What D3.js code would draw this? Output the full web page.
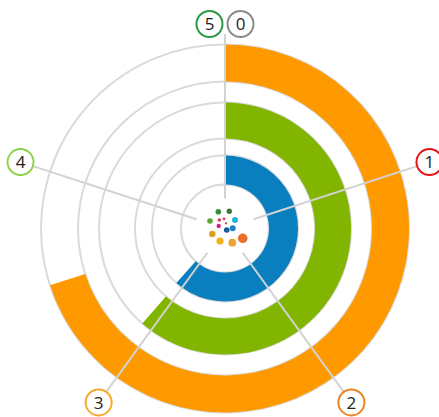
<!DOCTYPE html>
<html>
<head>
<meta charset="utf-8">
<script src="https://cdn.jsdelivr.net/npm/d3@7"></script>
<style>
  html, body { margin: 0; padding: 0; background: #fff; }
  #chart { width: 439px; height: 417px; }
</style>
</head>
<body>
<div id="chart"></div>
<script>
// ---- data ---------------------------------------------------------------
const seriesNames = ["inner", "middle", "outer"];
const seriesValues = [3.08, 3.07, 3.5];
const seriesColors = ["#0a7fc0", "#82b500", "#ff9900"];

const tickLabels = ["0", "1", "2", "3", "4", "5"];
const tickColors = ["#8a8a8a", "#e8121b", "#f08423", "#f7a92c", "#8fd14f", "#2a9a47"];

// little dot cluster in the hole (offsets from centre, px-units of the picture)
const dotX = [-6.7, 4.3, -15, -5.7, -1, 1, 10, -6.3, 1.7, 7.7, -12.7, -5, 7.3, 17.7];
const dotY = [-16.8, -17.2, -7.5, -8.5, -9.8, -5.2, -8.5, -2.5, 1.5, -0.2, 5.5, 12.5, 14.2, 9.8];
const dotR = [2.8, 2.7, 2.8, 1.7, 1.5, 1.1, 3, 2.2, 2.8, 3, 3.2, 3.6, 3.9, 4.8];
const dotColors = ["#2f8f3f", "#3b7a34", "#5aa83c", "#e0363f", "#e04a78", "#a93a3a",
                   "#1bb2e2", "#d6237f", "#1b5b96", "#1f80c6", "#d7a023", "#f2b21d",
                   "#f0a035", "#e8702b"];
// ------------------------------------------------------------------------

const width = 439, height = 417;
const cx = 225, cy = 228.5;

const svg = d3.select("#chart").append("svg")
  .attr("width", width)
  .attr("height", height);

const g = svg.append("g").attr("transform", `translate(${cx},${cy})`);

// value -> angle, one full turn for 0..5
const angle = d3.scaleLinear().domain([0, 5]).range([0, 2 * Math.PI]);

// ring edges (inner, outer) for each series
const ringEdges = [[44, 73], [90, 126], [147, 184]];
const ring = d3.scaleOrdinal().domain(seriesNames).range(ringEdges);

// grid circles on each ring edge
const gridR = ringEdges.flat();
g.append("g")
  .selectAll("circle")
  .data(gridR)
  .join("circle")
    .attr("r", d => d)
    .attr("fill", "none")
    .attr("stroke", "#dadada")
    .attr("stroke-width", 2);

// bars
const arc = d3.arc()
  .startAngle(0)
  .endAngle(d => angle(d.value))
  .innerRadius(d => ring(d.name)[0])
  .outerRadius(d => ring(d.name)[1]);

g.append("g")
  .selectAll("path")
  .data(seriesNames.map((n, i) => ({ name: n, value: seriesValues[i], color: seriesColors[i] })))
  .join("path")
    .attr("d", arc)
    .attr("fill", d => d.color);

// spokes + tick badges
const labelR = 215;
const topR = 204.5;
const ticks = tickLabels.map((t, i) => {
  const a = angle(i);
  let x, y;
  if (i === 0 || i === 5) {
    // 0 and 5 share the top spoke, sit side by side
    x = (i === 0 ? 15.5 : -15.5);
    y = -topR;
  } else {
    x = Math.sin(a) * labelR;
    y = -Math.cos(a) * labelR;
  }
  return { label: t, color: tickColors[i], a, x, y, i };
});

const spokeIn = 30;
g.append("g")
  .selectAll("line")
  .data(ticks.filter(d => d.i < 5))
  .join("line")
    .attr("x1", d => Math.sin(d.a) * spokeIn)
    .attr("y1", d => -Math.cos(d.a) * spokeIn)
    .attr("x2", d => d.i === 0 ? 0 : Math.sin(d.a) * (labelR - 13))
    .attr("y2", d => d.i === 0 ? -(topR - 10) : -Math.cos(d.a) * (labelR - 13))
    .attr("stroke", "#d2d2d2")
    .attr("stroke-width", 2);

const badge = g.append("g")
  .selectAll("g")
  .data(ticks)
  .join("g")
    .attr("transform", d => `translate(${d.x},${d.y})`);

badge.append("circle")
  .attr("r", 13)
  .attr("fill", "#fff")
  .attr("stroke", d => d.color)
  .attr("stroke-width", 2);

badge.append("text")
  .attr("text-anchor", "middle")
  .attr("dy", "0.36em")
  .style("font-family", "'Open Sans', sans-serif")
  .style("font-size", "17px")
  .style("fill", "#222")
  .text(d => d.label);

// dot cluster
const px = d3.scaleLinear().domain([-20, 20]).range([-20, 20]);
g.append("g")
  .selectAll("circle")
  .data(dotX.map((x, i) => ({ x, y: dotY[i], r: dotR[i], c: dotColors[i] })))
  .join("circle")
    .attr("cx", d => px(d.x))
    .attr("cy", d => px(d.y))
    .attr("r", d => d.r)
    .attr("fill", d => d.c);
</script>
</body>
</html>
